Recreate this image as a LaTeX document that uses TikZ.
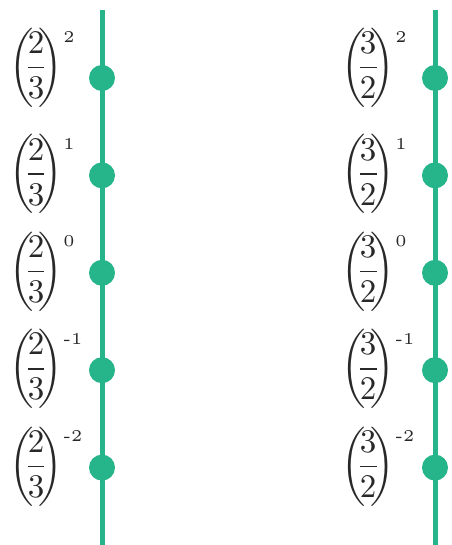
\documentclass[tikz,border=0pt]{standalone}
\usepackage{amsmath}
\usepackage{graphicx}
\usepackage{xcolor}
\usepackage{tikz}
\usetikzlibrary{positioning}
\definecolor{stemgreen}{RGB}{38,180,138}
\definecolor{ink}{RGB}{40,40,40}
\newcommand{\pw}[3]{\scalebox{3.3}{\nulldelimiterspace=0pt$\left(\mskip-3mu\dfrac{#1}{#2}\mskip-3mu\right)^{\raisebox{-2pt}{$\scriptscriptstyle\text{#3}$}}$}}

\begin{document}
\begin{tikzpicture}[x=1pt,y=1pt,
  node distance=71pt,
  dot/.style={circle,fill=stemgreen,inner sep=0pt,minimum size=26pt},
  stem/.style={draw=stemgreen,line width=5pt},
  lbl/.style={inner sep=0pt,anchor=base west,text=ink,yshift=-7pt}]
  \useasboundingbox (0,0) rectangle (451,545);
  % left column
  \coordinate (ltop) at (102,535);
  \coordinate (lbot) at (102,0);
  \coordinate (lx) at (9,0);
  \draw[stem](ltop)--(lbot);
  \node[dot] (la) at (102,467) {};
  \node[dot,below=of la] (lb) {};
  \node[dot,below=of lb] (lc) {};
  \node[dot,below=of lc] (ld) {};
  \node[dot,below=of ld] (le) {};
  \node[lbl,yshift=9pt] (lla) at (lx |- la) {\pw{2}{3}{2}};
  \node[lbl] (llb) at (lx |- lb) {\pw{2}{3}{1}};
  \node[lbl] (llc) at (lx |- lc) {\pw{2}{3}{0}};
  \node[lbl] (lld) at (lx |- ld) {\pw{2}{3}{-1}};
  \node[lbl] (lle) at (lx |- le) {\pw{2}{3}{-2}};
  % right column
  \coordinate (rtop) at (435,535);
  \coordinate (rbot) at (435,0);
  \coordinate (rx) at (341,0);
  \draw[stem](rtop)--(rbot);
  \node[dot] (ra) at (435,467) {};
  \node[dot,below=of ra] (rb) {};
  \node[dot,below=of rb] (rc) {};
  \node[dot,below=of rc] (rd) {};
  \node[dot,below=of rd] (re) {};
  \node[lbl,yshift=9pt] (rla) at (rx |- ra) {\pw{3}{2}{2}};
  \node[lbl] (rlb) at (rx |- rb) {\pw{3}{2}{1}};
  \node[lbl] (rlc) at (rx |- rc) {\pw{3}{2}{0}};
  \node[lbl] (rld) at (rx |- rd) {\pw{3}{2}{-1}};
  \node[lbl] (rle) at (rx |- re) {\pw{3}{2}{-2}};
\end{tikzpicture}
\end{document}
